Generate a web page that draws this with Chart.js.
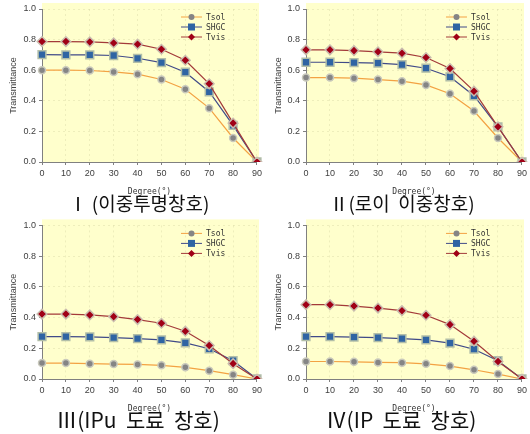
<!DOCTYPE html>
<html>
<head>
<meta charset="utf-8">
<script src="https://cdn.jsdelivr.net/npm/chart.js@4"></script>
<style>
body { margin:0; background:#fff; width:530px; height:434px; position:relative; overflow:hidden; }
canvas { position:absolute; }
.cap { position:absolute; font-family:'Noto Sans CJK KR', sans-serif; color:#111; text-align:center; white-space:pre; }
</style>
</head>
<body>
<canvas id="c1" width="265" height="200" style="left:0;top:0"></canvas>
<canvas id="c2" width="265" height="200" style="left:265px;top:0"></canvas>
<canvas id="c3" width="265" height="200" style="left:0;top:217px"></canvas>
<canvas id="c4" width="265" height="200" style="left:265px;top:217px"></canvas>
<div class="cap" id="t1" style="left:0;top:191px;width:278px;font-size:19px;line-height:24px"></div>
<div class="cap" id="t2" style="left:265px;top:191px;width:274px;font-size:19px;line-height:24px"></div>
<div class="cap" id="t3" style="left:0;top:406px;width:276px;font-size:21px;line-height:26px"></div>
<div class="cap" id="t4" style="left:265px;top:406px;width:272px;font-size:21px;line-height:26px"></div>
<script>
const degrees = ['0', '10', '20', '30', '40', '50', '60', '70', '80', '90'];
const yTicks = [0.0, 0.2, 0.4, 0.6, 0.8, 1.0];
const seriesNames = ['Tsol', 'SHGC', 'Tvis'];
const panelTitles = ['Ⅰ (이중투명창호)', 'Ⅱ(로이  이중창호)', 'Ⅲ(IPu  도료  창호)', 'Ⅳ(IP  도료  창호)'];

// I
const tsol1 = [0.60, 0.60, 0.598, 0.589, 0.574, 0.539, 0.476, 0.352, 0.157, 0];
const shgc1 = [0.702, 0.70, 0.70, 0.696, 0.678, 0.65, 0.587, 0.459, 0.239, 0];
const tvis1 = [0.787, 0.787, 0.785, 0.778, 0.77, 0.737, 0.665, 0.511, 0.254, 0];
// II
const tsol2 = [0.552, 0.552, 0.548, 0.539, 0.528, 0.504, 0.446, 0.333, 0.157, 0];
const shgc2 = [0.652, 0.652, 0.65, 0.646, 0.637, 0.613, 0.557, 0.433, 0.23, 0];
const tvis2 = [0.733, 0.733, 0.728, 0.72, 0.711, 0.683, 0.611, 0.463, 0.23, 0];
// III
const tsol3 = [0.104, 0.104, 0.10, 0.097, 0.095, 0.089, 0.076, 0.054, 0.028, 0];
const shgc3 = [0.276, 0.276, 0.274, 0.27, 0.263, 0.255, 0.235, 0.197, 0.119, 0];
const tvis3 = [0.423, 0.423, 0.417, 0.406, 0.387, 0.363, 0.311, 0.218, 0.10, 0];
// IV
const tsol4 = [0.114, 0.114, 0.112, 0.108, 0.106, 0.099, 0.084, 0.06, 0.032, 0];
const shgc4 = [0.276, 0.276, 0.272, 0.27, 0.263, 0.255, 0.233, 0.194, 0.119, 0];
const tvis4 = [0.484, 0.484, 0.475, 0.462, 0.445, 0.415, 0.354, 0.246, 0.114, 0];

const styles = [
    { borderColor: '#f3a243', pointStyle: 'circle', pointRadius: 3.5, pointBackgroundColor: '#858585', pointBorderColor: '#c9c9bc' },
    { borderColor: '#404a88', pointStyle: 'rect', pointRadius: 5.5, pointBackgroundColor: '#2f64a3', pointBorderColor: '#b2bea8' },
    { borderColor: '#a33a3a', pointStyle: 'rectRot', pointRadius: 4.8, pointBackgroundColor: '#a00016', pointBorderColor: '#c9bcae' },
];

const bgPlugin = {
    id: 'bg',
    beforeDraw(chart) {
        const a = chart.chartArea;
        const ctx = chart.ctx;
        ctx.save();
        ctx.fillStyle = '#ffffcc';
        ctx.fillRect(a.left, a.top - 6, a.right - a.left + 2, a.bottom - a.top + 6);
        ctx.restore();
    },
};

function marker(ctx, style, x, y, r) {
    ctx.beginPath();
    if (style === 'circle') {
        ctx.arc(x, y, r, 0, Math.PI * 2);
    } else if (style === 'rect') {
        ctx.rect(x - r, y - r, 2 * r, 2 * r);
    } else {
        ctx.moveTo(x - r, y); ctx.lineTo(x, y - r); ctx.lineTo(x + r, y); ctx.lineTo(x, y + r); ctx.closePath();
    }
    ctx.fill();
}

// legend drawn inside the plot, top right
const legendPlugin = {
    id: 'inLegend',
    afterDraw(chart) {
        const a = chart.chartArea;
        const ctx = chart.ctx;
        ctx.save();
        chart.data.datasets.forEach((ds, i) => {
            const y = a.top + 8 + i * 10;
            ctx.strokeStyle = ds.borderColor;
            ctx.lineWidth = 1;
            ctx.beginPath();
            ctx.moveTo(a.right - 76, y);
            ctx.lineTo(a.right - 55, y);
            ctx.stroke();
            ctx.fillStyle = ds.pointBackgroundColor;
            marker(ctx, ds.pointStyle, a.right - 65.5, y, [3, 3.5, 3.5][i]);
            ctx.fillStyle = '#333';
            ctx.font = '8px "DejaVu Sans Mono"';
            ctx.textBaseline = 'middle';
            ctx.fillText(ds.label, a.right - 51, y + 0.5);
        });
        ctx.restore();
    },
};

const tickFont = { family: 'Liberation Sans', size: 9 };
const gridColor = 'rgba(200,200,150,0.3)';

function makePanel(id, area, values) {
    new Chart(document.getElementById(id), {
        type: 'line',
        data: {
            labels: degrees,
            datasets: seriesNames.map((name, i) => Object.assign({
                label: name,
                data: values[i],
                borderWidth: 1.2,
                pointBorderWidth: 1.5,
                tension: 0,
                order: 2 - i,
            }, styles[i])),
        },
        options: {
            responsive: false,
            animation: false,
            devicePixelRatio: 1,
            layout: { padding: { top: area.top, right: 265 - area.right, left: 0, bottom: 0 } },
            plugins: { legend: { display: false }, tooltip: { enabled: false } },
            scales: {
                x: {
                    grid: { color: gridColor, tickLength: 3, tickColor: '#808080' },
                    border: { color: '#808080', dash: [2, 3] },
                    ticks: { font: tickFont, color: '#404040', padding: 3, maxRotation: 0, autoSkip: false },
                    title: { display: true, text: 'Degree(°)', font: { family: 'DejaVu Sans Mono', size: 8 }, color: '#333', padding: { top: 2, bottom: 3 } },
                    afterFit(s) { s.height = 200 - area.bottom; },
                },
                y: {
                    min: 0,
                    max: 1,
                    afterBuildTicks(s) { s.ticks = yTicks.map(v => ({ value: v })); },
                    grid: { color: gridColor, tickLength: 3, tickColor: '#808080' },
                    border: { color: '#808080', dash: [2, 3] },
                    ticks: { font: tickFont, color: '#404040', padding: 3, callback: v => v.toFixed(1) },
                    title: { display: true, text: 'Transmittance', font: { family: 'Liberation Sans', size: 9 }, color: '#444', padding: { top: 8, bottom: 0 } },
                    afterFit(s) { s.width = area.left; },
                },
            },
        },
        plugins: [bgPlugin, legendPlugin],
    });
}

makePanel('c1', { left: 42, top: 9, right: 258, bottom: 162 }, [tsol1, shgc1, tvis1]);
makePanel('c2', { left: 41, top: 9, right: 260, bottom: 162 }, [tsol2, shgc2, tvis2]);
makePanel('c3', { left: 42, top: 7, right: 259, bottom: 162 }, [tsol3, shgc3, tvis3]);
makePanel('c4', { left: 41, top: 7, right: 260, bottom: 162 }, [tsol4, shgc4, tvis4]);

panelTitles.forEach((t, i) => { document.getElementById('t' + (i + 1)).textContent = t; });
</script>
</body>
</html>
